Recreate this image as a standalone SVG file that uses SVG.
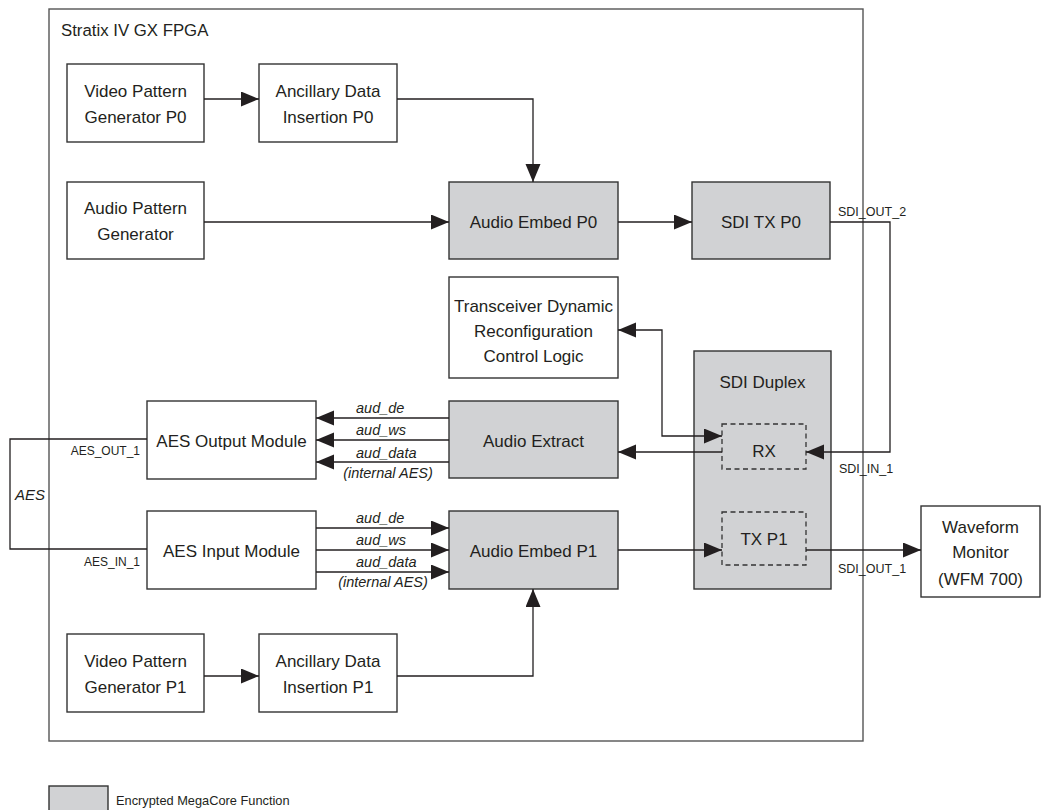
<svg xmlns="http://www.w3.org/2000/svg" width="1042" height="810" viewBox="0 0 1042 810">
<style>
.box{fill:#fff;stroke:#333;stroke-width:1.4}
.enc{fill:#d1d2d4;stroke:#333;stroke-width:1.4}
.dash{fill:none;stroke:#333;stroke-width:1.3;stroke-dasharray:5,3.5}
.frame{fill:none;stroke:#555;stroke-width:1.4}
.t{font-family:"Liberation Sans",Arial,sans-serif;font-size:17px;fill:#231f20;text-anchor:middle}
.s{font-family:"Liberation Sans",Arial,sans-serif;font-size:12.5px;fill:#231f20}
.i{font-family:"Liberation Sans",Arial,sans-serif;font-size:14.5px;font-style:italic;fill:#231f20}
.c{fill:none;stroke:#231f20;stroke-width:1.3}
</style>
<defs>
<marker id="ah" markerUnits="userSpaceOnUse" markerWidth="19" markerHeight="16" refX="18" refY="7.5" orient="auto-start-reverse">
<path d="M0,0 L18,7.5 L0,15 z" fill="#231f20"/>
</marker>
</defs>
<rect x="0" y="0" width="1042" height="810" fill="#fff"/>
<g id="fpga">
<rect class="frame" x="49" y="9" width="814" height="732"/>
<text class="t" x="61" y="36" style="text-anchor:start;font-size:16.8px">Stratix IV GX FPGA</text>
</g>
<g id="vpg0"><rect class="box" x="67" y="64" width="137" height="78"/>
<text class="t" x="135.5" y="97">Video Pattern</text><text class="t" x="135.5" y="123">Generator P0</text></g>
<g id="adi0"><rect class="box" x="259" y="64" width="138" height="78"/>
<text class="t" x="328" y="97">Ancillary Data</text><text class="t" x="328" y="123">Insertion P0</text></g>
<g id="apg"><rect class="box" x="67" y="182" width="137" height="77"/>
<text class="t" x="135.5" y="214">Audio Pattern</text><text class="t" x="135.5" y="240">Generator</text></g>
<g id="aep0"><rect class="enc" x="449" y="182" width="169" height="77"/>
<text class="t" x="533.5" y="228">Audio Embed P0</text></g>
<g id="sditx0"><rect class="enc" x="692" y="182" width="138" height="77"/>
<text class="t" x="761" y="228">SDI TX P0</text></g>
<g id="tdr"><rect class="box" x="449" y="277" width="169" height="101"/>
<text class="t" x="533.5" y="312">Transceiver Dynamic</text><text class="t" x="533.5" y="337">Reconfiguration</text><text class="t" x="533.5" y="362">Control Logic</text></g>
<g id="sdidup"><rect class="enc" x="694" y="351" width="137" height="238"/>
<text class="t" x="762.5" y="388">SDI Duplex</text></g>
<g id="rx"><rect class="dash" x="722" y="424" width="84" height="45"/>
<text class="t" x="764" y="457">RX</text></g>
<g id="txp1"><rect class="dash" x="722" y="512" width="84" height="53"/>
<text class="t" x="764" y="545">TX P1</text></g>
<g id="aex"><rect class="enc" x="449" y="401" width="169" height="77"/>
<text class="t" x="533.5" y="447">Audio Extract</text></g>
<g id="aep1"><rect class="enc" x="449" y="511" width="169" height="78"/>
<text class="t" x="533.5" y="557">Audio Embed P1</text></g>
<g id="aesout"><rect class="box" x="147" y="401" width="169" height="78"/>
<text class="t" x="231.5" y="447">AES Output Module</text></g>
<g id="aesin"><rect class="box" x="147" y="511" width="169" height="78"/>
<text class="t" x="231.5" y="557">AES Input Module</text></g>
<g id="vpg1"><rect class="box" x="67" y="634" width="137" height="78"/>
<text class="t" x="135.5" y="667">Video Pattern</text><text class="t" x="135.5" y="693">Generator P1</text></g>
<g id="adi1"><rect class="box" x="259" y="634" width="138" height="78"/>
<text class="t" x="328" y="667">Ancillary Data</text><text class="t" x="328" y="693">Insertion P1</text></g>
<g id="wfm"><rect class="box" x="921" y="506" width="119" height="91"/>
<text class="t" x="980.5" y="533">Waveform</text><text class="t" x="980.5" y="558">Monitor</text><text class="t" x="980.5" y="585">(WFM 700)</text></g>
<g id="legend"><rect class="enc" x="49" y="786" width="59" height="30"/>
<text class="s" x="116" y="805" style="font-size:12.8px">Encrypted MegaCore Function</text></g>
<g id="connectors">
<path class="c" d="M204,99 H259" marker-end="url(#ah)"/>
<path class="c" d="M397,99 H533 V182" marker-end="url(#ah)"/>
<path class="c" d="M204,222 H449" marker-end="url(#ah)"/>
<path class="c" d="M618,222 H692" marker-end="url(#ah)"/>
<path class="c" d="M830,222 H890 V452 H806" marker-end="url(#ah)"/>
<path class="c" d="M722,436 H662 V330 H618" marker-start="url(#ah)" marker-end="url(#ah)"/>
<path class="c" d="M722,452 H618" marker-end="url(#ah)"/>
<path class="c" d="M449,418 H316" marker-end="url(#ah)"/>
<path class="c" d="M449,440 H316" marker-end="url(#ah)"/>
<path class="c" d="M449,462 H316" marker-end="url(#ah)"/>
<path class="c" d="M316,528 H449" marker-end="url(#ah)"/>
<path class="c" d="M316,550 H449" marker-end="url(#ah)"/>
<path class="c" d="M316,572 H449" marker-end="url(#ah)"/>
<path class="c" d="M618,550 H722" marker-end="url(#ah)"/>
<path class="c" d="M806,550 H921" marker-end="url(#ah)"/>
<path class="c" d="M147,439 H10 V549 H147"/>
<path class="c" d="M204,676 H259" marker-end="url(#ah)"/>
<path class="c" d="M397,676 H533 V589" marker-end="url(#ah)"/>
<text class="s" x="838" y="216">SDI_OUT_2</text>
<text class="s" x="839" y="473">SDI_IN_1</text>
<text class="s" x="838" y="573">SDI_OUT_1</text>
<text class="s" x="140" y="455" style="text-anchor:end;font-size:12px">AES_OUT_1</text>
<text class="s" x="140" y="566" style="text-anchor:end;font-size:12px">AES_IN_1</text>
<text class="i" x="15" y="500" style="font-size:15px">AES</text>
<text class="i" x="356" y="413">aud_de</text>
<text class="i" x="356" y="435">aud_ws</text>
<text class="i" x="356" y="458">aud_data</text>
<text class="i" x="388" y="478" style="text-anchor:middle">(internal AES)</text>
<text class="i" x="356" y="523">aud_de</text>
<text class="i" x="356" y="545">aud_ws</text>
<text class="i" x="356" y="567">aud_data</text>
<text class="i" x="383" y="587" style="text-anchor:middle">(internal AES)</text>
</g>
</svg>
